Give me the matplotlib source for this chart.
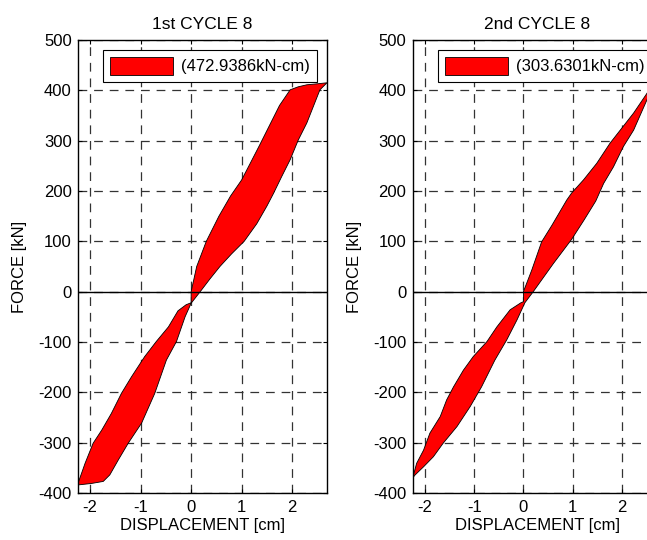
import matplotlib.pyplot as plt

plt.rcParams['font.family'] = ['Liberation Sans', 'DejaVu Sans']
plt.rcParams['axes.unicode_minus'] = False
plt.rcParams['font.size'] = 12

titles = ['1st CYCLE 8', '2nd CYCLE 8']
energy = ['(472.9386kN-cm)', '(303.6301kN-cm)']

# loop outlines: displacement [cm], force [kN]
c1_disp = [0.00, 0.11, 0.30, 0.55, 0.78, 1.00, 1.17, 1.36, 1.55, 1.75, 1.96,
           2.12, 2.29, 2.50, 2.69,
           2.55, 2.42, 2.29, 2.12, 1.96, 1.79, 1.63, 1.50, 1.30, 1.05, 0.80, 0.57,
           0.37, 0.18, 0.00, -0.12, -0.29, -0.49, -0.72, -0.98, -1.245, -1.44,
           -1.61, -1.74, -1.97, -2.24,
           -2.23, -2.10, -1.94, -1.77, -1.58, -1.38, -1.18, -0.92, -0.69, -0.45,
           -0.26, -0.10, 0.00]
c1_force = [0, 50, 100, 150, 190, 222, 255, 292, 330, 370, 401,
            407, 411, 413, 415,
            401, 368, 335, 301, 262, 228, 195, 170, 135, 100, 75, 50,
            25, 0, -23, -50, -99, -136, -202, -261, -301, -334,
            -364, -377, -381, -384,
            -378, -341, -301, -275, -242, -202, -169, -129, -99, -70,
            -38, -26, -22]

c2_disp = [0.00, 0.17, 0.37, 0.58, 0.88, 0.98, 1.22, 1.49, 1.76, 2.00, 2.24, 2.51, 2.81,
           2.51, 2.24, 2.03, 1.83, 1.63, 1.47, 1.23, 0.98, 0.61, 0.20, 0.03, -0.13,
           -0.34, -0.58, -0.85, -1.08, -1.35, -1.63, -1.83, -2.03, -2.20, -2.25,
           -2.17, -2.03, -1.90, -1.69, -1.56, -1.42, -1.22, -1.02, -0.74, -0.54,
           -0.27, -0.05, 0.00]
c2_force = [0, 43, 99, 132, 182, 196, 222, 255, 295, 325, 355, 394, 440,
            381, 321, 288, 248, 215, 180, 142, 104, 56, 0, -22, -56,
            -96, -136, -189, -228, -268, -301, -328, -348, -364, -370,
            -341, -315, -281, -248, -215, -189, -156, -129, -99, -70,
            -36, -22, -20]

loops = [(c1_disp, c1_force), (c2_disp, c2_force)]
xlims = [(-2.24, 2.69), (-2.25, 2.81)]

fig = plt.figure(figsize=(6.47, 5.4), dpi=100)
lefts = [78 / 647, 412.7 / 647]
w = 249 / 647
for i in range(2):
    ax = fig.add_axes([lefts[i], 47 / 540, w, 453 / 540])
    d, f = loops[i]
    ax.fill(d, f, facecolor='#ff0000', edgecolor='black', linewidth=0.6,
            label=energy[i], zorder=2)
    ax.axhline(0, color='black', linewidth=1, zorder=3)
    ax.set_xlim(xlims[i])
    ax.set_ylim(-400, 500)
    ax.set_xticks([-2, -1, 0, 1, 2])
    ax.set_yticks(range(-400, 501, 100))
    ax.grid(True, color='#333333', linestyle=(0, (7, 5.5)), linewidth=0.9, zorder=0)
    ax.set_axisbelow(True)
    ax.tick_params(direction='in', length=3, width=0.8, top=True, right=True)
    ax.tick_params(axis='x', pad=5)
    ax.tick_params(axis='y', pad=4.5)
    for s in ax.spines.values():
        s.set_linewidth(1)
    ax.set_title(titles[i], fontsize=12.5, pad=8)
    ax.set_xlabel('DISPLACEMENT [cm]', labelpad=2)
    ax.set_ylabel('FORCE [kN]', labelpad=8)
    leg = ax.legend(loc='upper right', fancybox=False, edgecolor='black',
                    framealpha=1, handlelength=3.8, handleheight=1.3,
                    borderaxespad=0.6, borderpad=0.4, handletextpad=0.5)
    leg.get_frame().set_linewidth(0.8)

fig.savefig('out.png', dpi=100)
